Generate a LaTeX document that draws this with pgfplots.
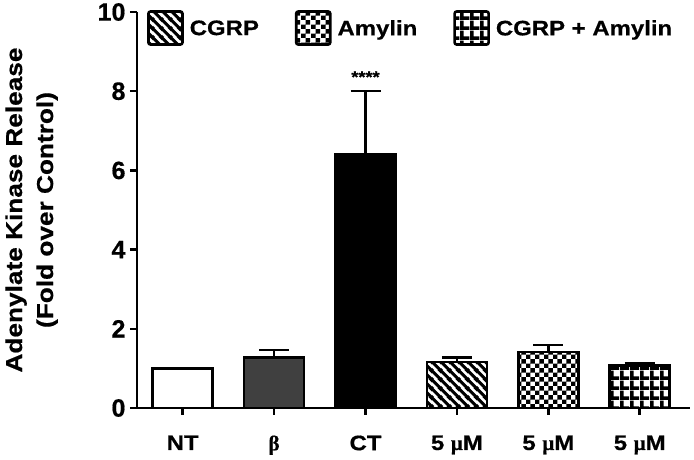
\documentclass[border=0pt]{standalone}
\usepackage{fontspec}
\setmainfont{Liberation Sans}[FakeStretch=1.14, BoldFeatures={FakeBold=0.6}]
\newfontfamily\plainsans{Liberation Sans}[BoldFeatures={FakeBold=0.6}]
\newfontfamily\greekfont{Liberation Serif}[FakeBold=0.5]
\usepackage{pgfplots}
\pgfplotsset{compat=1.18}
\usetikzlibrary{patterns}

\pgfdeclarepatternformonly{nwthick}{\pgfqpoint{0pt}{0pt}}{\pgfqpoint{9pt}{9pt}}{\pgfqpoint{9pt}{9pt}}{%
  \pgfsetlinewidth{3.2pt}%
  \pgfpathmoveto{\pgfqpoint{-1pt}{10pt}}\pgfpathlineto{\pgfqpoint{10pt}{-1pt}}%
  \pgfpathmoveto{\pgfqpoint{-2pt}{2pt}}\pgfpathlineto{\pgfqpoint{2pt}{-2pt}}%
  \pgfpathmoveto{\pgfqpoint{7pt}{11pt}}\pgfpathlineto{\pgfqpoint{11pt}{7pt}}%
  \pgfusepath{stroke}}
\pgfdeclarepatternformonly{checkbig}{\pgfqpoint{0pt}{0pt}}{\pgfqpoint{9.4pt}{9.4pt}}{\pgfqpoint{9.4pt}{9.4pt}}{%
  \pgfpathrectangle{\pgfqpoint{0pt}{0pt}}{\pgfqpoint{4.7pt}{4.7pt}}%
  \pgfpathrectangle{\pgfqpoint{4.7pt}{4.7pt}}{\pgfqpoint{4.7pt}{4.7pt}}%
  \pgfusepath{fill}}
\pgfdeclarepatternformonly{gridbig}{\pgfqpoint{0pt}{0pt}}{\pgfqpoint{10pt}{10pt}}{\pgfqpoint{10pt}{10pt}}{%
  \pgfpathrectangle{\pgfqpoint{0pt}{0pt}}{\pgfqpoint{10pt}{3.8pt}}%
  \pgfpathrectangle{\pgfqpoint{0pt}{0pt}}{\pgfqpoint{3.8pt}{10pt}}%
  \pgfusepath{fill}}

\pgfplotsset{mylegend/.style={legend image code/.code={%
  \draw[##1, line width=2.6pt, rounded corners=2pt] (0pt,-16pt) rectangle (34pt,17pt);}}}

\begin{document}
\begin{tikzpicture}
\useasboundingbox (-137pt,-52pt) rectangle (557pt,408pt);
\begin{axis}[
  scale only axis, width=553pt, height=396pt,
  xmin=-0.5, xmax=5.55, ymin=0, ymax=10,
  axis lines*=left,
  axis line style={line width=2.5pt, -},
  xtick={0,...,5},
  xticklabels={NT, {\greekfont β}, CT, 5 {\greekfont μ}M, 5 {\greekfont μ}M, 5 {\greekfont μ}M},
  ytick={0,2,...,10},
  tick align=outside, major tick length=7pt,
  tick style={line width=2.5pt, black},
  x tick label style={font=\fontsize{21}{24}\selectfont\bfseries, yshift=-17pt},
  y tick label style={font=\plainsans\fontsize{25}{28}\selectfont\bfseries, xshift=-1pt},
  /pgf/number format/assume math mode=true,
  ylabel={Adenylate Kinase Release\\(Fold over Control)},
  ylabel style={align=center, font=\fontsize{23}{31}\selectfont\bfseries},
  ylabel shift=33pt,
  ybar, bar width=60pt, bar shift=0pt,
  every axis plot/.append style={line width=2.5pt, draw=black},
  error bars/y dir=plus, error bars/y explicit,
  error bars/error bar style={line width=2.5pt, black},
  error bars/error mark options={rotate=90, mark size=15pt, line width=2.5pt, black},
  legend columns=3,
  legend style={draw=none, fill=none, inner sep=0pt, at={(0.018,1.005)}, anchor=north west,
    font=\fontsize{21}{24}\selectfont\bfseries,
    /tikz/every even column/.append style={column sep=34pt},
    /tikz/every odd column/.append style={column sep=4pt}},
  clip=false,
]
\addplot[fill=white, forget plot] coordinates {(0,1.0) +- (0,0)};
\addplot[fill=black!75, forget plot, error bars/.cd, y dir=plus, y explicit] coordinates {(1,1.27) +- (0,0.2)};
\addplot[fill=black, forget plot, error bars/.cd, y dir=plus, y explicit] coordinates {(2,6.42) +- (0,1.58)};
\addplot[pattern=nwthick, mylegend, error bars/.cd, y dir=plus, y explicit] coordinates {(3,1.16) +- (0,0.11)};
\addlegendentry{CGRP}
\addplot[pattern=checkbig, mylegend, error bars/.cd, y dir=plus, y explicit] coordinates {(4,1.42) +- (0,0.17)};
\addlegendentry{Amylin}
\addplot[pattern=gridbig, mylegend, error bars/.cd, y dir=plus, y explicit] coordinates {(5,1.07) +- (0,0.06)};
\addlegendentry{CGRP + Amylin}
\node[font=\fontsize{16}{18}\selectfont\bfseries, anchor=base] at (axis cs:2,8.22) {****};
\end{axis}
\end{tikzpicture}
\end{document}
